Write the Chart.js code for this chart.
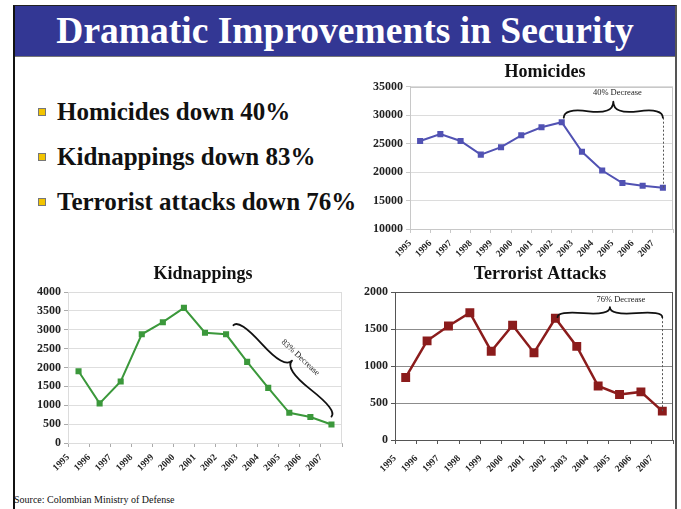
<!DOCTYPE html>
<html><head><meta charset="utf-8">
<script src="https://cdn.jsdelivr.net/npm/chart.js@4.4.1/dist/chart.umd.min.js"></script>
<style>
html,body{margin:0;padding:0;background:#fff;}
body{width:681px;height:509px;overflow:hidden;position:relative;font-family:"Liberation Serif",serif;}
#frame{position:absolute;left:13px;top:5px;width:664px;height:520px;border-left:2px solid #111;border-top:1px solid #222;border-right:2px solid #555;box-sizing:border-box;}
#bar{position:absolute;left:15px;top:6px;width:660px;height:50px;background:#333794;border-bottom:1px solid #777;color:#fff;font-weight:bold;font-size:37.5px;line-height:50px;text-align:center;white-space:nowrap;}
.bul{position:absolute;left:57px;font-weight:bold;font-size:25px;color:#111;line-height:30px;white-space:nowrap;}
.sq{position:absolute;left:38px;width:6px;height:6px;background:#f2c400;border:1px solid #777;}
#src{position:absolute;left:14px;top:494px;font-size:10px;color:#111;white-space:nowrap;}
canvas{position:absolute;}
</style>
</head><body>
<div id="frame"></div>
<div id="bar">Dramatic Improvements in Security</div>
<div class="sq" style="top:108px"></div><div class="bul" style="top:97px">Homicides down 40%</div>
<div class="sq" style="top:153px"></div><div class="bul" style="top:142px">Kidnappings down 83%</div>
<div class="sq" style="top:198px"></div><div class="bul" style="top:187px">Terrorist attacks down 76%</div>
<div id="src">Source: Colombian Ministry of Defense</div>
<canvas id="c1" width="370" height="200" style="left:360px;top:62px;width:370px;height:200px"></canvas>
<canvas id="c2" width="366" height="222" style="left:20px;top:262px;width:366px;height:222px"></canvas>
<canvas id="c3" width="380" height="222" style="left:350px;top:262px;width:380px;height:222px"></canvas>
<script>
// ---- data ----
const years = ['1995','1996','1997','1998','1999','2000','2001','2002','2003','2004','2005','2006','2007'];
const homicides   = [25500, 26700, 25500, 23100, 24400, 26500, 27900, 28800, 23600, 20300, 18100, 17600, 17250];
const kidnappings = [1900, 1050, 1630, 2880, 3200, 3580, 2920, 2880, 2150, 1460, 800, 690, 490];
const attacks     = [845, 1340, 1540, 1720, 1200, 1550, 1180, 1645, 1265, 730, 615, 650, 390];
const homicideAxis = {min: 10000, max: 35000, step: 5000};
const kidnapAxis   = {min: 0, max: 4000, step: 500};
const attackAxis   = {min: 0, max: 2000, step: 500};
const titles = ['Homicides', 'Kidnappings', 'Terrorist Attacks'];
const braceTexts = ['40% Decrease', '83% Decrease', '76% Decrease'];

const SERIF = '"Liberation Serif", "Times New Roman", serif';

const boxPlugin = {
  id: 'box',
  beforeDatasetsDraw(chart, args, opts) {
    if (!opts || !opts.color) return;
    const {left, top, right, bottom} = chart.chartArea;
    const ctx = chart.ctx;
    ctx.save();
    ctx.strokeStyle = opts.color; ctx.lineWidth = 1;
    ctx.strokeRect(Math.round(left) + 0.5, Math.round(top) + 0.5, Math.round(right - left) - 1, Math.round(bottom - top));
    ctx.restore();
  }
};

function bracePath(ctx, p1, p2, w, q) {
  const L = Math.hypot(p2.x - p1.x, p2.y - p1.y);
  const d = {x: (p2.x - p1.x) / L, y: (p2.y - p1.y) / L};
  const n = {x: d.y, y: -d.x};
  const P = (b, a, c) => ({x: b.x + a * d.x + c * n.x, y: b.y + a * d.y + c * n.y});
  const T = P(p1, 0.5 * L, w);
  const C1 = P(p1, 0, q * w), E1 = P(p1, 0.25 * L, (1 - q) * w);
  const C2 = {x: 2 * E1.x - C1.x, y: 2 * E1.y - C1.y};
  const C3 = P(p2, 0, q * w), E2 = P(p1, 0.75 * L, (1 - q) * w);
  const C4 = {x: 2 * E2.x - C3.x, y: 2 * E2.y - C3.y};
  ctx.beginPath();
  ctx.moveTo(p1.x, p1.y); ctx.quadraticCurveTo(C1.x, C1.y, E1.x, E1.y); ctx.quadraticCurveTo(C2.x, C2.y, T.x, T.y);
  ctx.moveTo(p2.x, p2.y); ctx.quadraticCurveTo(C3.x, C3.y, E2.x, E2.y); ctx.quadraticCurveTo(C4.x, C4.y, T.x, T.y);
  ctx.stroke();
  return {T, d, n};
}

const bracePlugin = {
  id: 'brace',
  afterDatasetsDraw(chart, args, o) {
    if (!o || !o.from) return;
    const xs = chart.scales.x, ys = chart.scales.y, ctx = chart.ctx;
    const p1 = {x: xs.getPixelForValue(o.from[0]), y: ys.getPixelForValue(o.from[1])};
    const p2 = {x: xs.getPixelForValue(o.to[0]), y: ys.getPixelForValue(o.to[1])};
    ctx.save();
    if (o.dotted) {
      const meta = chart.getDatasetMeta(0);
      const last = meta.data[meta.data.length - 1];
      ctx.strokeStyle = '#555'; ctx.lineWidth = 1; ctx.setLineDash([2, 2]);
      ctx.beginPath(); ctx.moveTo(Math.round(p2.x) + 0.5, p2.y); ctx.lineTo(Math.round(p2.x) + 0.5, last.y); ctx.stroke();
      ctx.setLineDash([]);
    }
    ctx.strokeStyle = '#111'; ctx.lineWidth = 1.8; ctx.lineCap = 'round';
    const {T, d, n} = bracePath(ctx, p1, p2, o.w, 0.6);
    const tx = T.x + n.x * o.gap + d.x * o.shift, ty = T.y + n.y * o.gap + d.y * o.shift;
    ctx.translate(tx, ty);
    if (o.rotate) ctx.rotate(Math.atan2(d.y, d.x));
    ctx.fillStyle = '#222'; ctx.font = '8.5px ' + SERIF; ctx.textAlign = 'center'; ctx.textBaseline = 'middle';
    ctx.fillText(o.text, 0, 0);
    ctx.restore();
  }
};

function build(id, c) {
  return new Chart(document.getElementById(id), {
    type: 'line',
    data: {labels: years, datasets: [{data: c.data, borderColor: c.color, backgroundColor: c.color,
      borderWidth: c.lw, pointStyle: 'rect', pointRadius: c.pr, pointHoverRadius: c.pr, pointBorderWidth: 0,
      tension: 0, fill: false}]},
    options: {
      responsive: false, animation: false, devicePixelRatio: 1, events: [],
      layout: {padding: 0},
      plugins: {
        legend: {display: false}, tooltip: {enabled: false},
        title: {display: true, text: c.title, color: '#111', font: {family: SERIF, size: 18, weight: 'bold'},
          padding: {top: c.tpt, bottom: c.tpb}},
        box: {color: c.box}, brace: c.brace
      },
      scales: {
        x: {offset: true,
          grid: {offset: true, drawOnChartArea: false, drawTicks: true, tickLength: 4, color: c.tick},
          border: {display: true, color: c.xBorder},
          ticks: {autoSkip: false, minRotation: 45, maxRotation: 45, labelOffset: -c.half, padding: c.xpad,
            color: '#222', font: {family: SERIF, size: 9.5, weight: 'bold'}},
          afterFit(s) { s.height = c.xH; }},
        y: {min: c.axis.min, max: c.axis.max,
          ticks: {stepSize: c.axis.step, color: '#222', padding: 3, font: {family: SERIF, size: 12, weight: 'bold'},
            callback: v => String(v)},
          grid: {color: c.grid, tickLength: 4, tickColor: c.tick},
          border: {display: true, color: c.yBorder},
          afterFit(s) { s.width = c.yW; }},
        y2: {position: 'right', display: true, grid: {display: false, drawTicks: false}, border: {display: false},
          ticks: {display: false}, afterFit(s) { s.width = c.rW; }}
      }
    },
    plugins: [boxPlugin, bracePlugin]
  });
}

build('c1', {data: homicides, axis: homicideAxis, title: titles[0], color: '#5152b3', lw: 2, pr: 4.3,
  box: '#c8c8c8', grid: '#dcdcdc', tick: '#c8c8c8', xBorder: '#c8c8c8', yBorder: '#c8c8c8',
  yW: 50, rW: 57, xH: 33, tpt: 0, tpb: 3.4, half: 10, xpad: 5,
  brace: {from: [7.1, 29600], to: [12, 29600], w: 16, gap: 9, shift: 4, text: braceTexts[0], dotted: true}});

build('c2', {data: kidnappings, axis: kidnapAxis, title: titles[1], color: '#3b983b', lw: 2, pr: 4.3,
  box: '#dcdcdc', grid: '#dedede', tick: '#aaaaaa', xBorder: '#bbbbbb', yBorder: '#999999',
  yW: 48, rW: 44, xH: 41, tpt: 2, tpb: 6.4, half: 10.5, xpad: 5,
  brace: {from: [7.35, 3120], to: [12, 700], w: 14, gap: 8, shift: 4, text: braceTexts[1], rotate: true}});

build('c3', {data: attacks, axis: attackAxis, title: titles[2], color: '#8b1c1c', lw: 2.5, pr: 6.3,
  box: '#555555', grid: '#8c8c8c', tick: '#555555', xBorder: '#555555', yBorder: '#555555',
  yW: 45, rW: 57, xH: 44, tpt: 2, tpb: 6.4, half: 10.7, xpad: 9,
  brace: {from: [7.1, 1660], to: [12, 1660], w: 10, gap: 7, shift: 11, text: braceTexts[2], dotted: true}});
</script>
</body></html>
